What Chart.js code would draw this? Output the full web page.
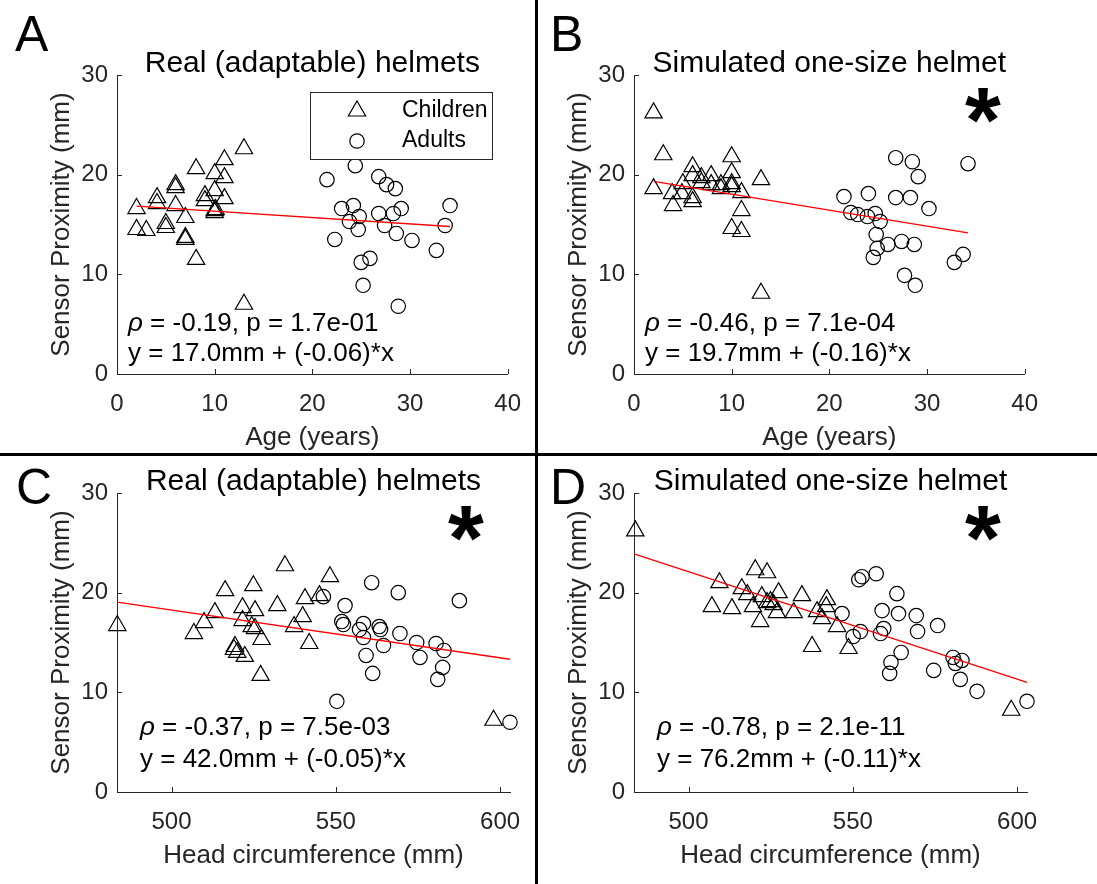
<!DOCTYPE html>
<html>
<head>
<meta charset="utf-8">
<script src="https://cdn.jsdelivr.net/npm/chart.js@4.4.1/dist/chart.umd.min.js"></script>
<style>
  body { margin: 0; background: #fff; }
  #wrap { position: relative; width: 1097px; height: 884px; overflow: hidden; font-family: "Liberation Sans", Arial, sans-serif; }
  .panel { position: absolute; width: 537px; height: 455px; }
  .letter { position: absolute; font-size: 50px; line-height: 50px; color: #000; }
  .vline { position: absolute; left: 535px; top: 0; width: 3px; height: 884px; background: #000; z-index: 5; }
  .hline { position: absolute; left: 0; top: 453px; width: 1097px; height: 3px; background: #000; z-index: 5; }
</style>
</head>
<body>
<div id="wrap">
  <div class="panel" style="left:0;top:0"><canvas id="chartA" width="537" height="455"></canvas></div>
  <div class="panel" style="left:517px;top:0"><canvas id="chartB" width="537" height="455"></canvas></div>
  <div class="panel" style="left:0;top:418px"><canvas id="chartC" width="537" height="455"></canvas></div>
  <div class="panel" style="left:517px;top:418px"><canvas id="chartD" width="537" height="455"></canvas></div>
  <div class="vline"></div>
  <div class="hline"></div>
  <div class="letter" style="left:15px;top:9px">A</div>
  <div class="letter" style="left:550px;top:9px">B</div>
  <div class="letter" style="left:16px;top:462px">C</div>
  <div class="letter" style="left:550px;top:462px">D</div>
</div>
<script>
// axis ticks
const yTicks = [0, 10, 20, 30];
const ageTicks = [0, 10, 20, 30, 40];
const headTicks = [500, 550, 600];

// A: real helmets vs age
const aChildX = [2.0, 2.0, 3.0, 4.1, 4.1, 5.0, 5.0, 6.0, 6.0, 6.0, 7.0, 7.0, 7.0, 8.1, 8.1, 9.0, 9.0, 10.0, 10.0, 10.0, 10.0, 10.1, 11.0, 11.0, 11.0, 13.0, 13.0];
const aChildY = [16.6, 14.5, 14.4, 17.7, 17.1, 15.1, 14.7, 19.0, 18.7, 16.9, 15.7, 13.7, 13.5, 20.6, 11.5, 17.9, 17.4, 20.1, 18.4, 16.4, 16.2, 16.5, 21.5, 19.7, 17.6, 22.6, 7.0];
const aAdultX = [21.5, 24.4, 23.0, 24.2, 24.8, 23.8, 24.7, 22.3, 26.8, 27.6, 28.5, 26.8, 28.3, 29.1, 27.4, 28.6, 30.2, 25.0, 25.9, 25.2, 28.8, 32.7, 33.6, 34.1];
const aAdultY = [19.5, 20.9, 16.6, 16.9, 15.8, 15.3, 14.5, 13.5, 19.8, 19.0, 18.6, 16.1, 16.1, 16.6, 14.9, 14.1, 13.4, 11.2, 11.6, 8.9, 6.8, 12.4, 14.9, 16.9];
const aFitX = [2.0, 34.1];
const aFitY = [16.85, 14.8];

// B: simulated one-size helmet vs age
const bChildX = [2.0, 2.0, 3.0, 3.9, 4.0, 5.0, 4.9, 6.0, 6.0, 6.0, 6.0, 6.9, 6.9, 7.9, 7.9, 8.9, 8.9, 10.0, 10.0, 10.0, 10.0, 10.0, 11.0, 11.0, 11.0, 13.0, 13.0];
const bChildY = [26.2, 18.6, 22.0, 18.1, 16.9, 19.1, 18.1, 20.8, 19.9, 17.7, 17.3, 19.7, 19.2, 19.9, 19.0, 19.0, 18.6, 21.8, 20.2, 19.1, 18.8, 14.6, 18.2, 16.4, 14.3, 19.5, 8.1];
const bAdultX = [21.5, 24.0, 22.2, 22.9, 23.9, 24.7, 25.2, 24.8, 24.9, 24.5, 26.0, 26.8, 28.3, 26.8, 28.5, 29.1, 30.2, 27.4, 28.7, 27.7, 28.8, 32.8, 33.7, 34.2];
const bAdultY = [17.8, 18.1, 16.2, 16.0, 15.8, 16.1, 15.3, 14.0, 12.6, 11.7, 13.0, 17.7, 17.7, 21.7, 21.3, 19.8, 16.6, 13.3, 13.0, 9.9, 8.9, 11.2, 12.0, 21.1];
const bFitX = [2.0, 34.2];
const bFitY = [19.33, 14.15];

// C: real helmets vs head circumference
const cChildX = [483.5, 506.8, 509.9, 513.2, 516.3, 519.0, 519.3, 520.0, 521.6, 521.6, 522.3, 524.9, 525.4, 524.4, 525.4, 527.4, 527.1, 532.2, 534.5, 537.3, 539.9, 540.6, 541.9, 545.0, 548.2, 598.0];
const cChildY = [16.7, 15.9, 17.0, 18.0, 20.2, 14.3, 14.6, 14.0, 18.5, 17.2, 13.6, 20.7, 18.2, 16.6, 16.4, 15.3, 11.7, 18.7, 22.7, 16.6, 17.6, 19.4, 14.9, 19.7, 21.6, 7.2];
const cAdultX = [546.2, 552.8, 551.8, 552.3, 557.2, 558.4, 558.4, 559.2, 561.2, 560.9, 563.2, 563.6, 564.5, 569.0, 569.5, 574.6, 575.6, 580.5, 582.9, 582.5, 581.0, 587.6, 550.3, 603.0];
const cAdultY = [19.6, 18.7, 17.1, 16.8, 16.3, 16.9, 15.5, 13.7, 11.9, 21.0, 16.6, 16.3, 14.7, 20.0, 15.9, 15.0, 13.5, 14.9, 14.2, 12.5, 11.3, 19.2, 9.1, 7.0];
const cFitX = [483.4, 603.0];
const cFitY = [19.06, 13.32];

// D: simulated one-size helmet vs head circumference
const dChildX = [483.8, 507.1, 509.4, 513.2, 516.2, 517.9, 519.6, 520.3, 521.8, 522.3, 523.9, 523.9, 524.9, 526.9, 527.4, 525.9, 532.0, 534.5, 537.6, 539.1, 540.6, 542.1, 541.9, 545.2, 548.7, 598.2];
const dChildY = [26.2, 18.6, 21.0, 18.4, 20.4, 19.8, 18.6, 22.3, 17.1, 19.6, 22.0, 19.0, 19.1, 18.0, 20.0, 18.8, 18.0, 19.7, 14.6, 18.1, 17.4, 19.3, 18.6, 16.6, 14.4, 8.2];
const dAdultX = [546.7, 550.1, 552.3, 551.8, 552.8, 557.1, 558.9, 558.4, 559.4, 561.6, 561.2, 563.4, 563.9, 564.7, 569.3, 569.7, 575.8, 574.6, 580.5, 581.2, 583.2, 582.7, 587.8, 603.0];
const dAdultY = [17.9, 15.6, 16.1, 21.3, 21.6, 21.9, 18.2, 15.9, 16.4, 13.0, 11.9, 19.9, 17.9, 14.0, 17.7, 16.1, 16.7, 12.2, 13.5, 12.9, 13.2, 11.3, 10.1, 9.1];
const dFitX = [483.4, 603.0];
const dFitY = [23.9, 11.0];

const FONT = '"Liberation Sans", Arial, Helvetica, sans-serif';
const AXIS = '#262626';
Chart.defaults.font.family = FONT;

const pairs = (xs, ys) => xs.map((x, i) => ({ x: x, y: ys[i] }));

// inward ticks, stats text, asterisk and boxed legend
const extras = {
    id: "extras",
    afterDraw(chart, args, o) {
        const { ctx, chartArea: a, scales } = chart;
        ctx.save();
        ctx.strokeStyle = AXIS;
        ctx.lineWidth = 1;
        ctx.beginPath();
        scales.x.ticks.forEach((t) => {
            const px = Math.round(scales.x.getPixelForValue(t.value)) + 0.5;
            ctx.moveTo(px, a.bottom);
            ctx.lineTo(px, a.bottom - 5);
        });
        scales.y.ticks.forEach((t) => {
            const py = Math.round(scales.y.getPixelForValue(t.value)) + 0.5;
            ctx.moveTo(a.left, py);
            ctx.lineTo(a.left + 5, py);
        });
        ctx.stroke();

        // stats
        ctx.fillStyle = "#000";
        ctx.textBaseline = "middle";
        ctx.textAlign = "left";
        let x = a.left + o.textLeft;
        ctx.font = "italic 26px " + FONT;
        ctx.fillText("\u03c1", x, a.top + o.textTop);
        x += ctx.measureText("\u03c1").width;
        ctx.font = "26px " + FONT;
        ctx.fillText(" = " + o.rho + ", p = " + o.p, x, a.top + o.textTop);
        ctx.fillText(o.eq, a.left + o.textLeft, a.top + o.textTop + o.lineGap);

        if (o.star) {
            ctx.font = "bold 92px " + FONT;
            ctx.textAlign = "center";
            ctx.textBaseline = "alphabetic";
            ctx.fillText("*", a.left + 349, a.top + 30 + 47);
        }

        if (o.legend) {
            const lx = a.left + 193, ly = a.top + 17;
            ctx.fillStyle = "#fff";
            ctx.fillRect(lx, ly, 182, 67);
            ctx.strokeStyle = AXIS;
            ctx.lineWidth = 1;
            ctx.strokeRect(lx + 0.5, ly + 0.5, 182, 67);
            const rows = [chart.data.datasets[1], chart.data.datasets[2]];
            rows.forEach((ds, i) => {
                const ry = ly + 19 + i * 30;
                ctx.strokeStyle = "#000";
                ctx.fillStyle = "rgba(0,0,0,0)";
                ctx.lineWidth = 1.2;
                Chart.helpers.drawPoint(ctx, { pointStyle: ds.pointStyle, radius: ds.pointRadius, borderWidth: 1.2, rotation: 0 }, lx + 47, ry);
                ctx.fillStyle = "#000";
                ctx.font = "23px " + FONT;
                ctx.textAlign = "left";
                ctx.textBaseline = "middle";
                ctx.fillText(ds.label, lx + 92, ry);
            });
        }
        ctx.restore();
    }
};

function makeChart(id, p) {
    return new Chart(document.getElementById(id), {
        type: "scatter",
        data: {
            datasets: [{
                type: "line",
                label: "fit",
                data: pairs(p.fitX, p.fitY),
                borderColor: "#ff0000",
                borderWidth: 1.3,
                pointRadius: 0,
                fill: false,
                clip: false
            }, {
                label: "Children",
                data: pairs(p.childX, p.childY),
                pointStyle: "triangle",
                pointRadius: 10,
                borderColor: "#000",
                backgroundColor: "rgba(0,0,0,0)",
                borderWidth: 1.2,
                clip: false
            }, {
                label: "Adults",
                data: pairs(p.adultX, p.adultY),
                pointStyle: "circle",
                pointRadius: 7.2,
                borderColor: "#000",
                backgroundColor: "rgba(0,0,0,0)",
                borderWidth: 1.2,
                clip: false
            }]
        },
        options: {
            responsive: false,
            animation: false,
            events: [],
            layout: { padding: { left: 0, right: 27, top: 0, bottom: 0 } },
            scales: {
                x: {
                    type: "linear",
                    min: p.xMin,
                    max: p.xMax,
                    afterBuildTicks: (s) => { s.ticks = p.xTicks.map((v) => ({ value: v })); },
                    afterFit: (s) => { s.height = 81; },
                    grid: { display: false, drawTicks: false },
                    border: { display: true, color: AXIS, width: 1 },
                    ticks: { color: AXIS, font: { size: 24 }, padding: 16, maxRotation: 0, autoSkip: false },
                    title: { display: true, text: p.xTitle, color: AXIS, font: { size: 26 }, padding: { top: 0, bottom: 2 } }
                },
                y: {
                    type: "linear",
                    min: 0,
                    max: 30,
                    afterBuildTicks: (s) => { s.ticks = yTicks.map((v) => ({ value: v })); },
                    afterFit: (s) => { s.width = 117; },
                    grid: { display: false, drawTicks: false },
                    border: { display: true, color: AXIS, width: 1 },
                    ticks: { color: AXIS, font: { size: 24 }, padding: 9 },
                    title: { display: true, text: "Sensor Proximity (mm)", color: AXIS, font: { size: 26 }, padding: { top: 46, bottom: 0 } }
                }
            },
            plugins: {
                legend: { display: false },
                tooltip: { enabled: false },
                title: {
                    display: true,
                    text: p.title,
                    fullSize: false,
                    color: "#000",
                    font: { size: 30, weight: "normal", lineHeight: 1.2 },
                    padding: { top: 46, bottom: -7 }
                },
                extras: p.extras
            }
        },
        plugins: [extras]
    });
}

makeChart("chartA", {
    title: "Real (adaptable) helmets", xTitle: "Age (years)", xMin: 0, xMax: 40, xTicks: ageTicks,
    childX: aChildX, childY: aChildY, adultX: aAdultX, adultY: aAdultY, fitX: aFitX, fitY: aFitY,
    extras: { rho: "-0.19", p: "1.7e-01", eq: "y = 17.0mm + (-0.06)*x", textLeft: 11, textTop: 249, lineGap: 30, star: false, legend: true }
});
makeChart("chartB", {
    title: "Simulated one-size helmet", xTitle: "Age (years)", xMin: 0, xMax: 40, xTicks: ageTicks,
    childX: bChildX, childY: bChildY, adultX: bAdultX, adultY: bAdultY, fitX: bFitX, fitY: bFitY,
    extras: { rho: "-0.46", p: "7.1e-04", eq: "y = 19.7mm + (-0.16)*x", textLeft: 11, textTop: 249, lineGap: 30, star: true, legend: false }
});
makeChart("chartC", {
    title: "Real (adaptable) helmets", xTitle: "Head circumference (mm)", xMin: 483.4, xMax: 603.0, xTicks: headTicks,
    childX: cChildX, childY: cChildY, adultX: cAdultX, adultY: cAdultY, fitX: cFitX, fitY: cFitY,
    extras: { rho: "-0.37", p: "7.5e-03", eq: "y = 42.0mm + (-0.05)*x", textLeft: 23, textTop: 235, lineGap: 32, star: true, legend: false }
});
makeChart("chartD", {
    title: "Simulated one-size helmet", xTitle: "Head circumference (mm)", xMin: 483.4, xMax: 603.0, xTicks: headTicks,
    childX: dChildX, childY: dChildY, adultX: dAdultX, adultY: dAdultY, fitX: dFitX, fitY: dFitY,
    extras: { rho: "-0.78", p: "2.1e-11", eq: "y = 76.2mm + (-0.11)*x", textLeft: 23, textTop: 235, lineGap: 32, star: true, legend: false }
});
</script>
</body>
</html>
